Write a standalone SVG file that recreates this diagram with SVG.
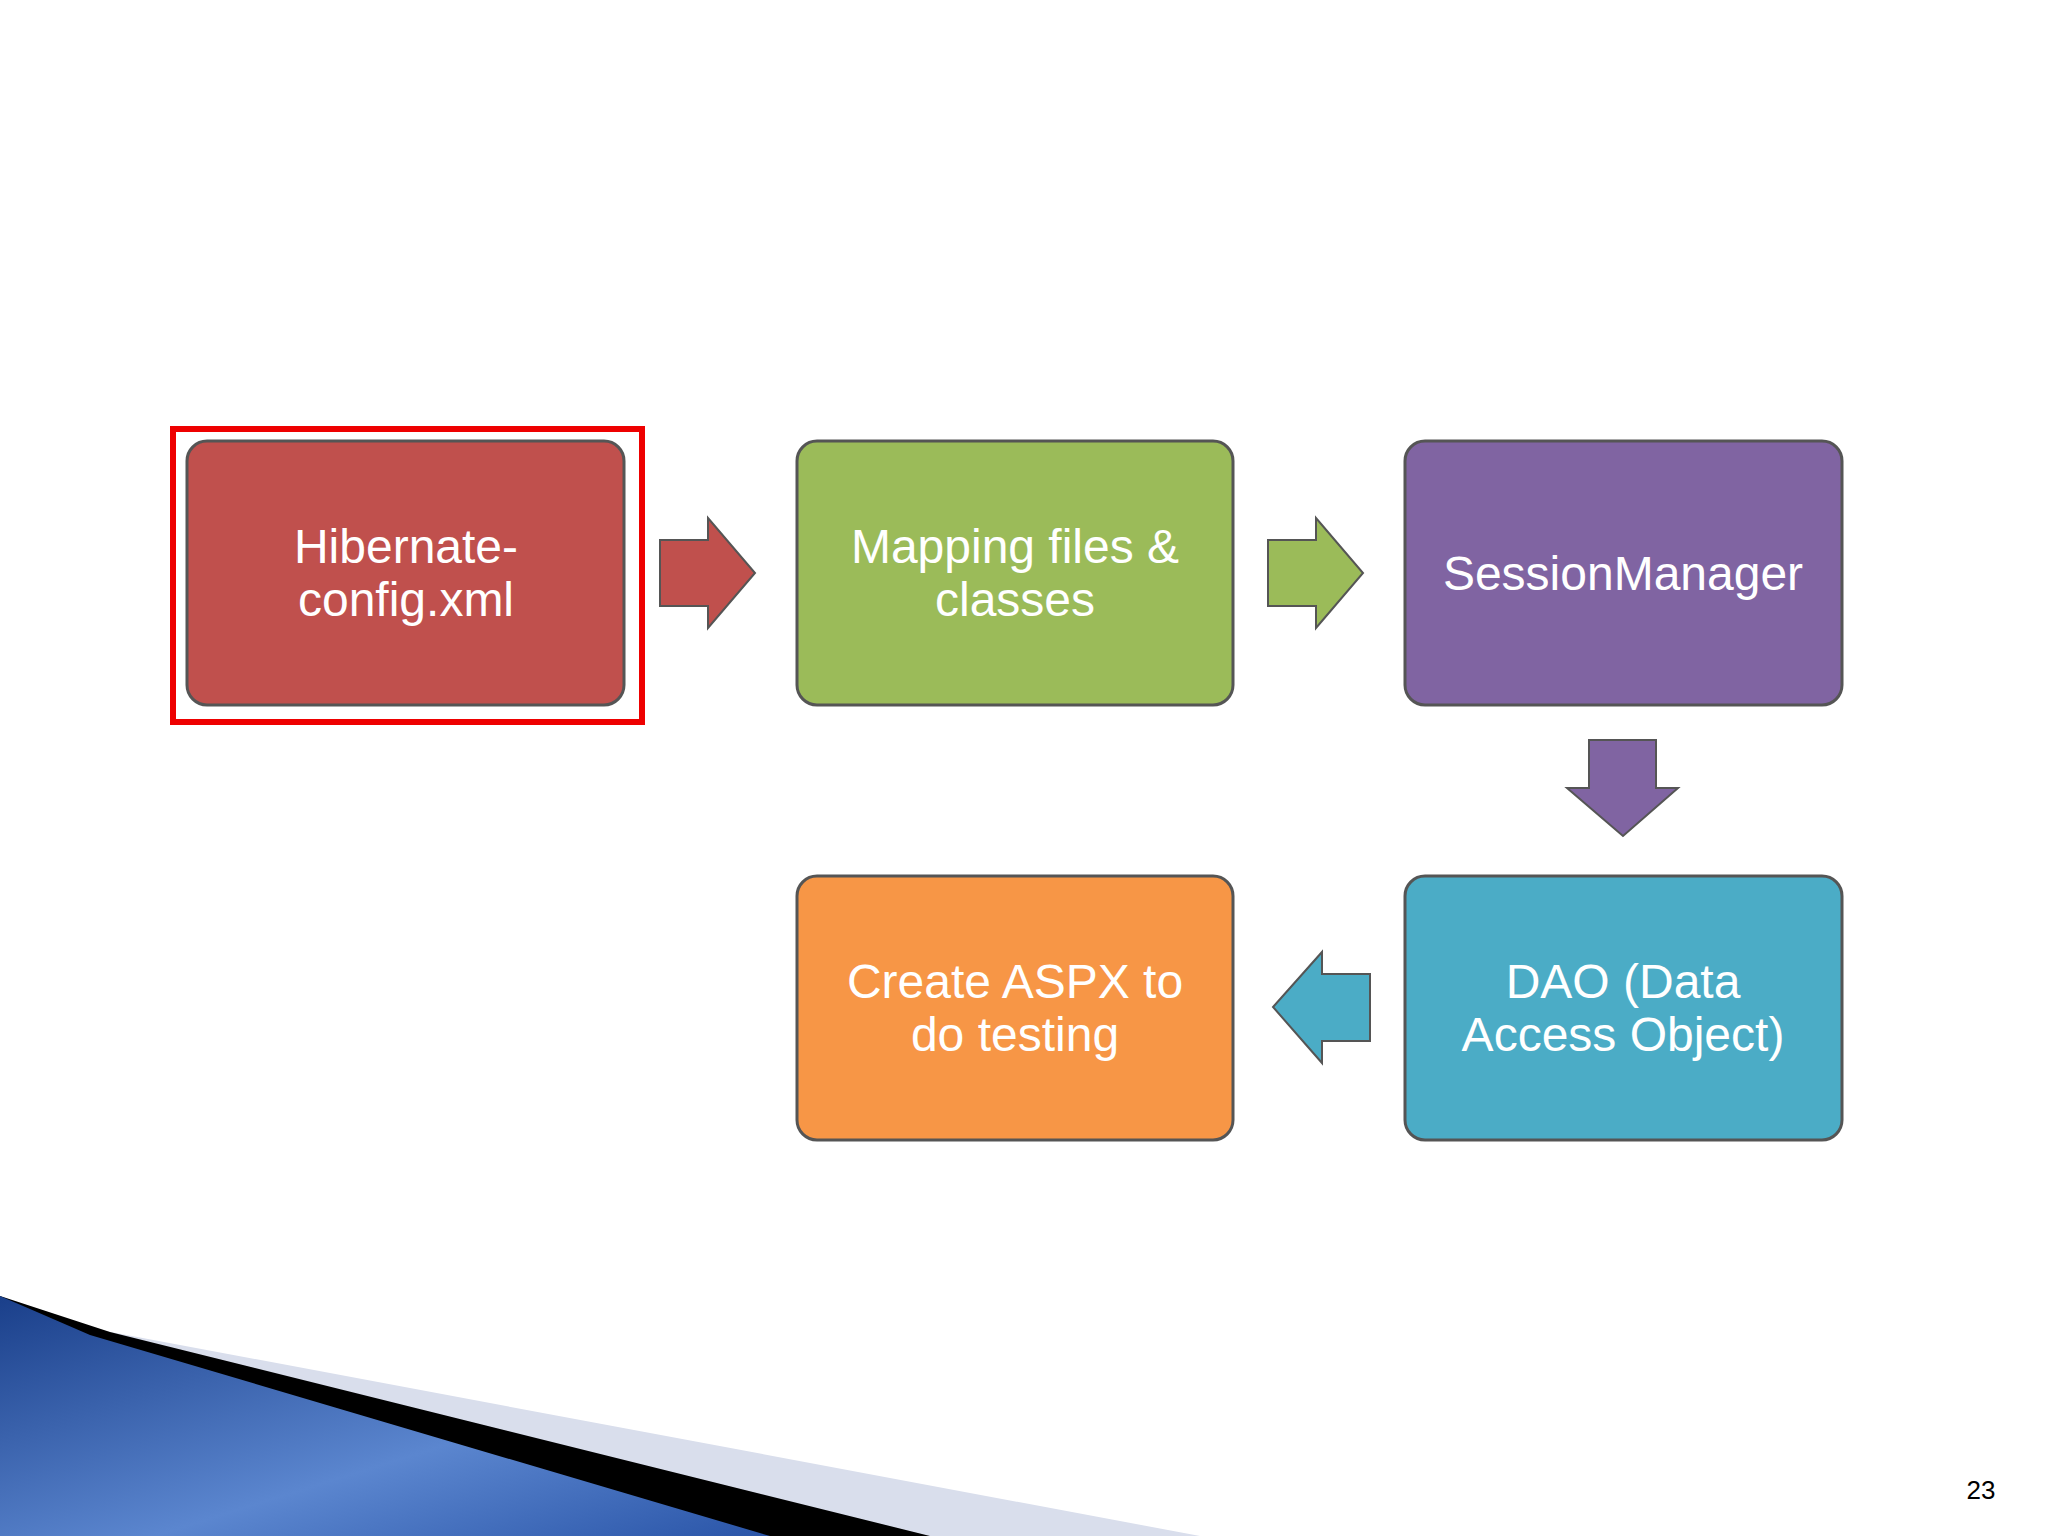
<svg xmlns="http://www.w3.org/2000/svg" width="2048" height="1536" viewBox="0 0 2048 1536">
<style>
.box{stroke:#555;stroke-width:3}
.t{font-family:"Liberation Sans",Arial,sans-serif;font-size:48px;fill:#fff;text-anchor:middle}
.arr{stroke:#555;stroke-width:2}
</style>
<defs>
<linearGradient id="bl" x1="0" y1="0" x2="1" y2="1"><stop offset="0" stop-color="#1a3f8a"/><stop offset="0.6" stop-color="#5b86cf"/><stop offset="1" stop-color="#2a55a8"/></linearGradient>
</defs>
<rect width="2048" height="1536" fill="#fff"/>
<polygon points="0,1296 100,1330 1200,1536 0,1536" fill="#d9deec"/>
<polygon points="0,1296 110,1332 930,1536 0,1536" fill="#000"/>
<polygon points="0,1296 90,1335 770,1536 0,1536" fill="url(#bl)"/>
<g id="highlight"><rect x="173" y="429" width="469" height="293" fill="none" stroke="#e00" stroke-width="6"/></g>
<g id="n1"><rect class="box" x="187" y="441" width="437" height="264" rx="20" fill="#c0504d"/><text class="t" x="406" y="563">Hibernate-</text><text class="t" x="406" y="616">config.xml</text></g>
<g id="n2"><rect class="box" x="797" y="441" width="436" height="264" rx="20" fill="#9bbb59"/><text class="t" x="1015" y="563">Mapping files &amp;</text><text class="t" x="1015" y="616">classes</text></g>
<g id="n3"><rect class="box" x="1405" y="441" width="437" height="264" rx="20" fill="#8064a2"/><text class="t" x="1623" y="590">SessionManager</text></g>
<g id="n4"><rect class="box" x="1405" y="876" width="437" height="264" rx="20" fill="#4bacc6"/><text class="t" x="1623" y="998">DAO (Data</text><text class="t" x="1623" y="1051">Access Object)</text></g>
<g id="n5"><rect class="box" x="797" y="876" width="436" height="264" rx="20" fill="#f79646"/><text class="t" x="1015" y="998">Create ASPX to</text><text class="t" x="1015" y="1051">do testing</text></g>
<g id="connectors">
<polygon class="arr" fill="#c0504d" points="660,540 708,540 708,518 755,573 708,628 708,606 660,606"/>
<polygon class="arr" fill="#9bbb59" points="1268,540 1316,540 1316,518 1363,573 1316,628 1316,606 1268,606"/>
<polygon class="arr" fill="#8064a2" points="1589,740 1656,740 1656,788 1678,788 1623,836 1567,788 1589,788"/>
<polygon class="arr" fill="#4bacc6" points="1370,974 1322,974 1322,952 1273,1007 1322,1063 1322,1041 1370,1041"/>
</g>
<text x="1981" y="1499" font-family="Liberation Sans,Arial,sans-serif" font-size="26" fill="#000" text-anchor="middle">23</text>
</svg>
